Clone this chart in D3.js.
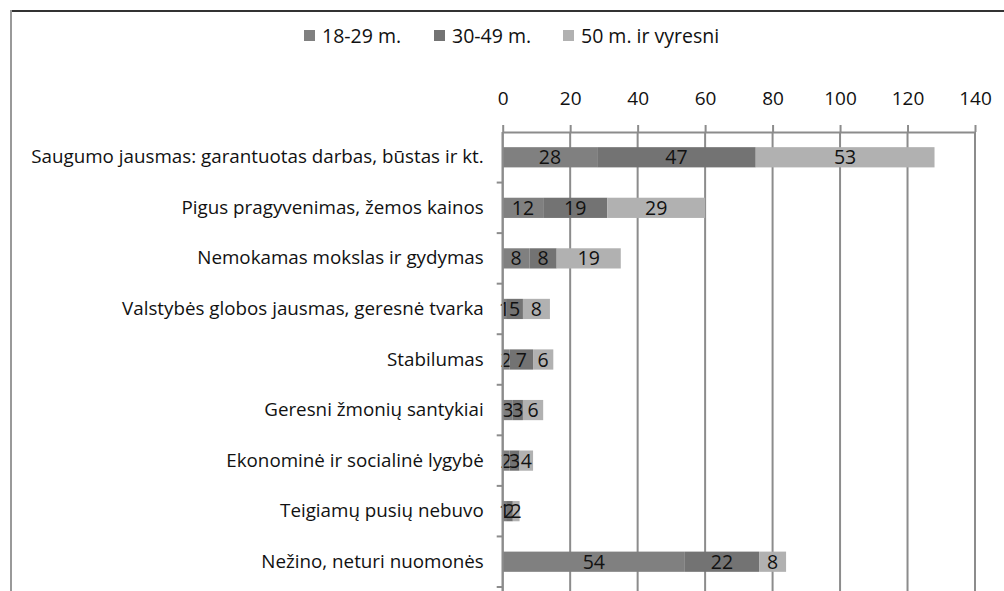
<!DOCTYPE html>
<html>
<head>
<meta charset="utf-8">
<script src="https://cdn.jsdelivr.net/npm/d3@7"></script>
<style>
  body { margin: 0; background: #fff; }
  svg { display: block; font-family: "Open Sans", sans-serif; }
</style>
</head>
<body>
<div id="chart"></div>
<script>
// data
const categories = [
  'Saugumo jausmas: garantuotas darbas, būstas ir kt.',
  'Pigus pragyvenimas, žemos kainos',
  'Nemokamas mokslas ir gydymas',
  'Valstybės globos jausmas, geresnė tvarka',
  'Stabilumas',
  'Geresni žmonių santykiai',
  'Ekonominė ir socialinė lygybė',
  'Teigiamų pusių nebuvo',
  'Nežino, neturi nuomonės'
]
const seriesNames = ['18-29 m.', '30-49 m.', '50 m. ir vyresni']
const age18_29 = [28, 12, 8, 1, 2, 3, 2, 1, 54]
const age30_49 = [47, 19, 8, 5, 7, 3, 3, 2, 22]
const age50plus = [53, 29, 19, 8, 6, 6, 4, 2, 8]
const xTicks = [0, 20, 40, 60, 80, 100, 120, 140]

const colors = ['#808080', '#737373', '#b1b1b1']
const W = 1004, H = 591

let svg = d3.select('#chart').append('svg')
    .attr('width', W)
    .attr('height', H)

// frame: dark top edge, gray left edge
svg.append('line').attr('x1', 10).attr('x2', W).attr('y1', 11).attr('y2', 11)
    .attr('stroke', '#333').attr('stroke-width', 2)
svg.append('line').attr('x1', 11).attr('x2', 11).attr('y1', 10).attr('y2', H)
    .attr('stroke', '#999').attr('stroke-width', 2)

let x = d3.scaleLinear().domain([0, 140]).range([502.7, 975])
let y = d3.scaleBand().domain(categories).range([132, 587])
    .paddingInner(0.6).paddingOuter(0.3)

// gridlines
svg.append('g').selectAll('line')
    .data(xTicks)
  .enter().append('line')
    .attr('x1', d => x(d)).attr('x2', d => x(d))
    .attr('y1', 132).attr('y2', H)
    .attr('stroke', '#8c8c8c').attr('stroke-width', 2)

// top axis
let xAxis = svg.append('g')
    .attr('transform', 'translate(0,132)')
    .call(d3.axisTop(x).tickValues(xTicks).tickSize(7).tickPadding(20).tickSizeOuter(0))
xAxis.select('.domain').attr('stroke', '#8c8c8c').attr('stroke-width', 2)
xAxis.selectAll('.tick line').attr('stroke', '#8c8c8c').attr('stroke-width', 2)
xAxis.selectAll('text').attr('font-size', 19).attr('fill', '#111')
    .attr('font-family', '"Open Sans", sans-serif')

// stacked bars
let rows = categories.map((c, i) => ({ cat: c, s0: age18_29[i], s1: age30_49[i], s2: age50plus[i] }))
let stack = d3.stack().keys(['s0', 's1', 's2'])(rows)

let layers = svg.append('g').selectAll('g')
    .data(stack)
  .enter().append('g')
    .attr('fill', (d, i) => colors[i])

layers.selectAll('rect')
    .data(d => d)
  .enter().append('rect')
    .attr('x', d => x(d[0]))
    .attr('width', d => x(d[1]) - x(d[0]))
    .attr('y', d => y(d.data.cat))
    .attr('height', y.bandwidth())

layers.selectAll('text')
    .data(d => d)
  .enter().append('text')
    .attr('x', d => (x(d[0]) + x(d[1])) / 2)
    .attr('y', d => y(d.data.cat) + y.bandwidth() / 2 + 7)
    .attr('text-anchor', 'middle')
    .attr('font-size', 19.5)
    .attr('fill', '#111')
    .text(d => d[1] - d[0])

// left axis with ticks on band edges
let yAxis = svg.append('g')
    .attr('transform', 'translate(502.7,0)')
    .call(d3.axisLeft(y).tickSize(0).tickPadding(19))
yAxis.select('.domain').attr('stroke', '#8c8c8c').attr('stroke-width', 2)
    .attr('d', 'M0,132V' + H)
yAxis.selectAll('text').attr('font-size', 18.8).attr('fill', '#111')
    .attr('font-family', '"Open Sans", sans-serif')
let edges = categories.map(c => y(c) + y.bandwidth() + y.step() * y.paddingInner() / 2)
yAxis.append('g').selectAll('line')
    .data(edges)
  .enter().append('line')
    .attr('x1', -6).attr('x2', 0)
    .attr('y1', d => d).attr('y2', d => d)
    .attr('stroke', '#8c8c8c').attr('stroke-width', 2)

// legend
let legend = svg.append('g').attr('font-size', 19.5)
let legendX = [304, 434, 563]
seriesNames.forEach((name, i) => {
    legend.append('rect')
        .attr('x', legendX[i]).attr('y', 30)
        .attr('width', 11).attr('height', 11)
        .attr('fill', colors[i])
    legend.append('text')
        .attr('x', legendX[i] + 18).attr('y', 43)
        .attr('fill', '#111')
        .text(name)
})
</script>
</body>
</html>
